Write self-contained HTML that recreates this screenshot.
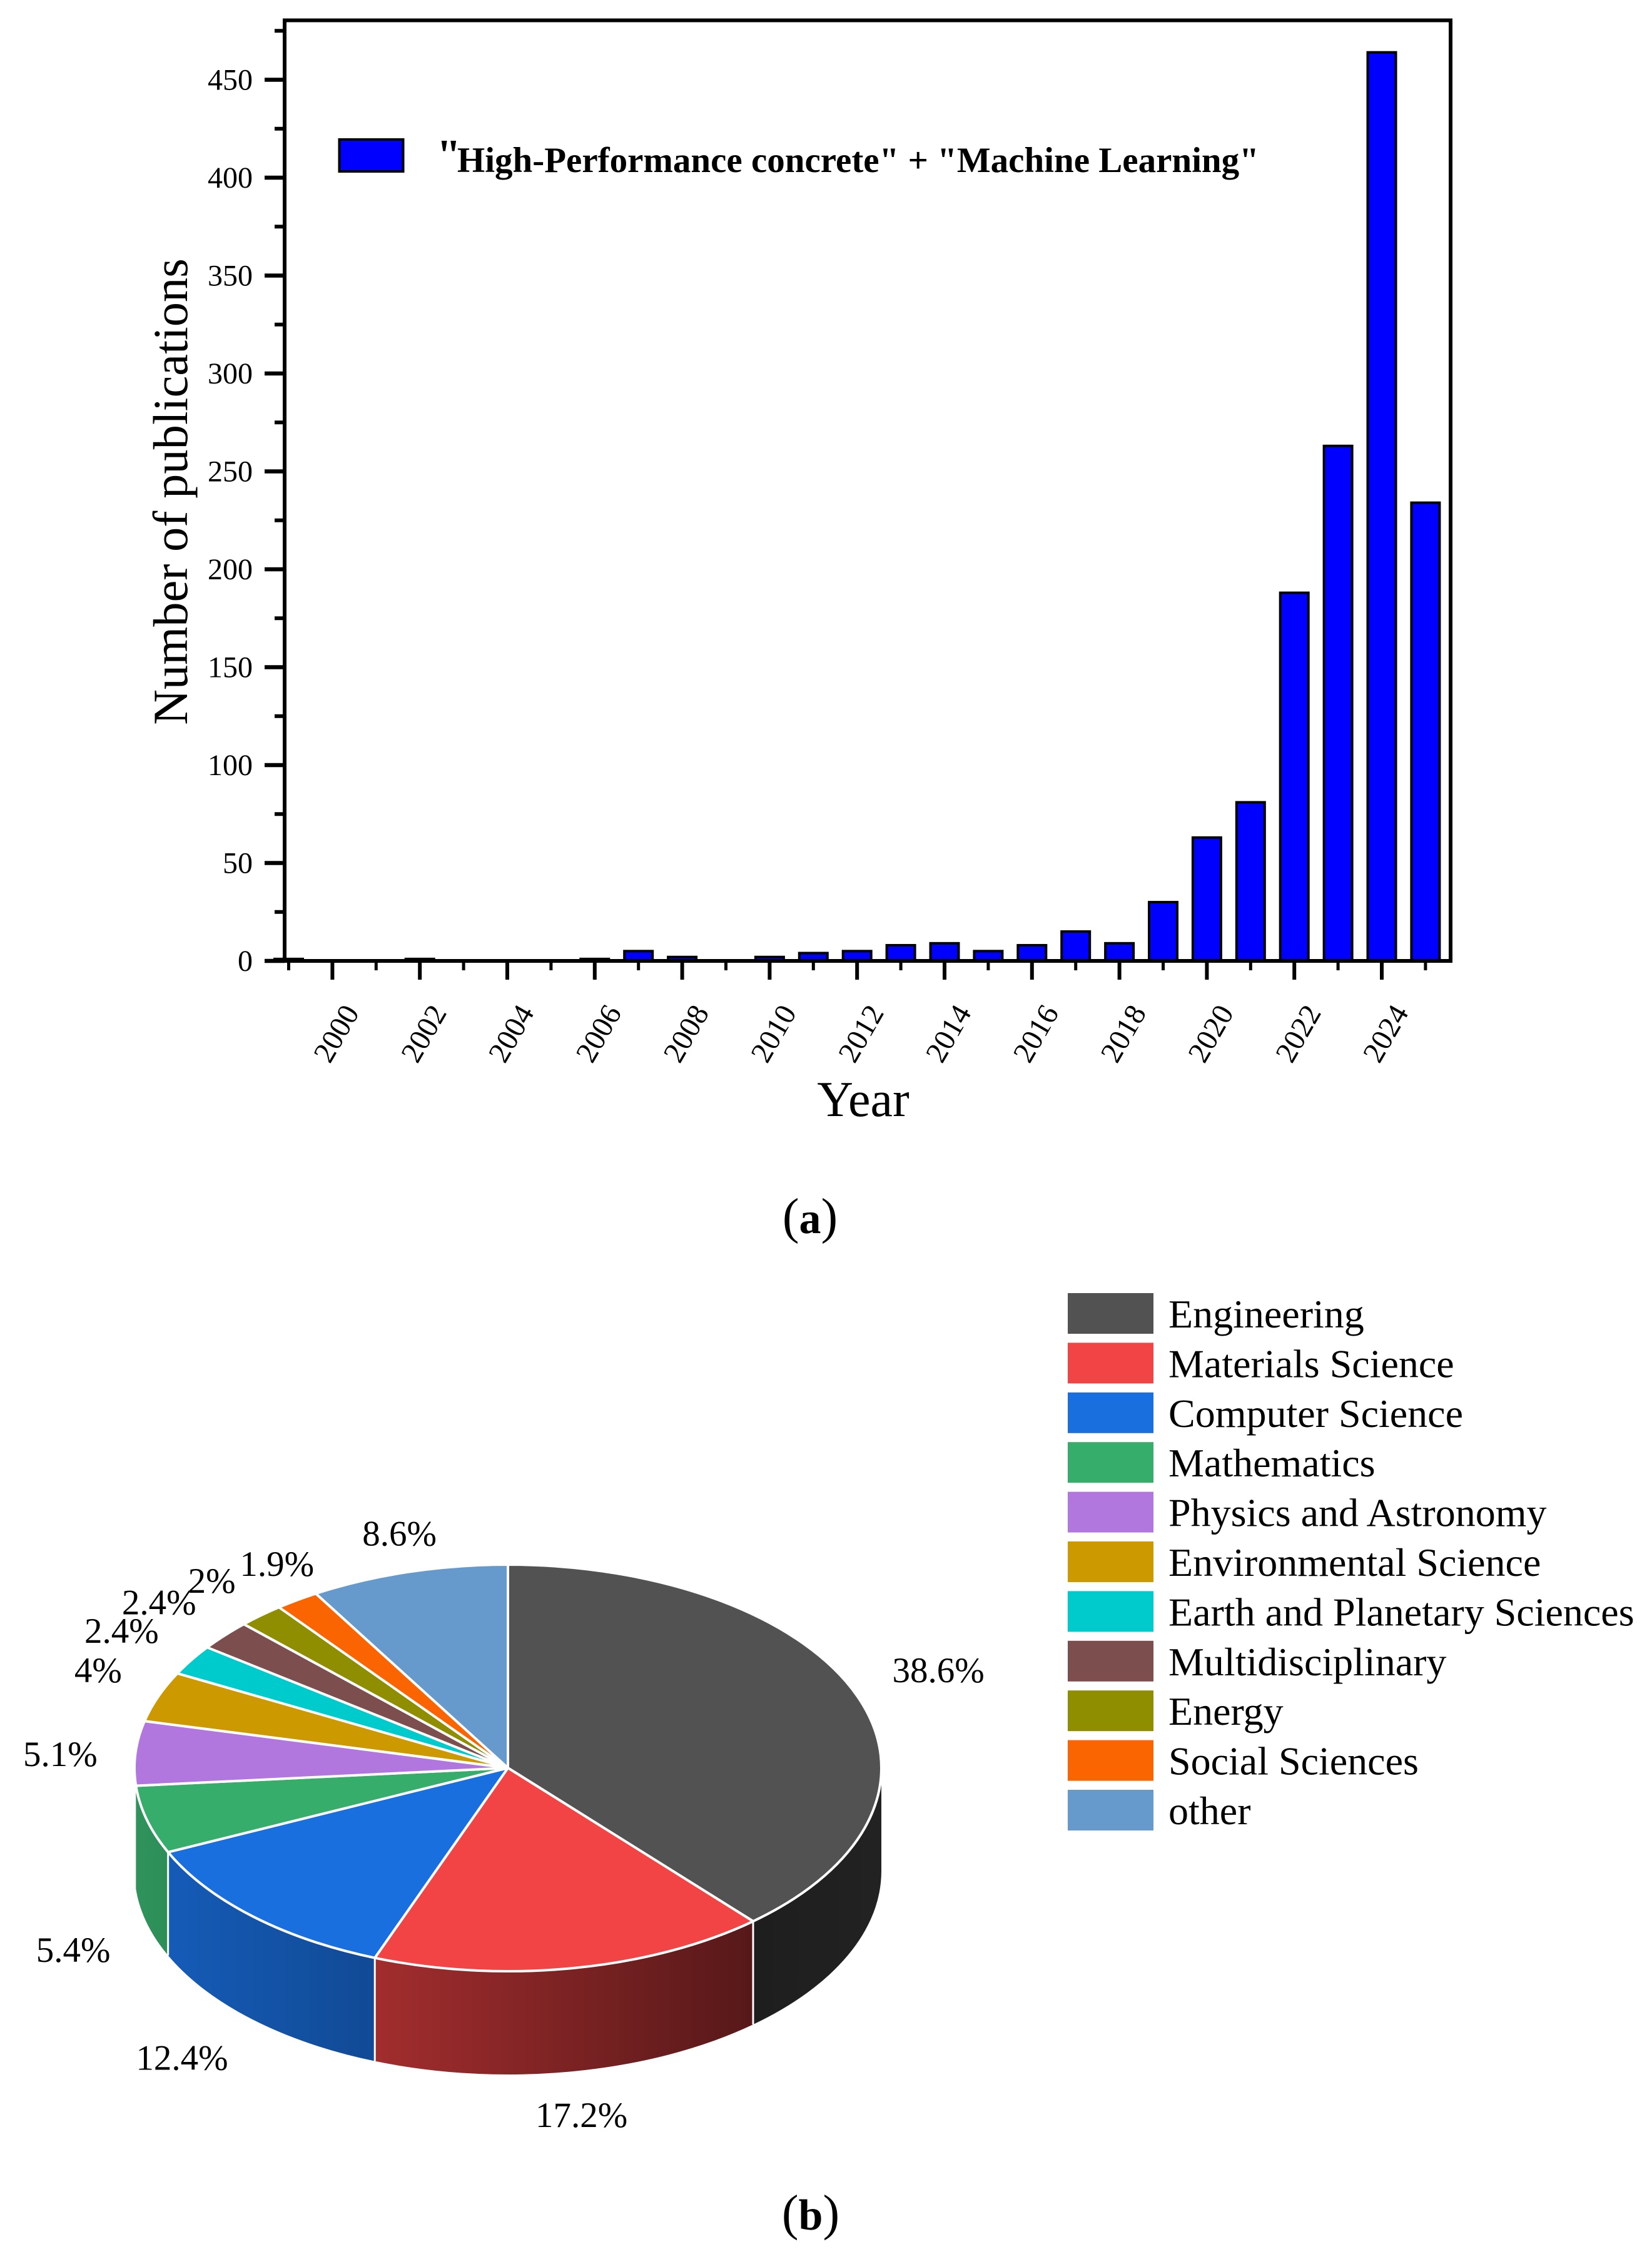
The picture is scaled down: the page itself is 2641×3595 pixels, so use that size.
<!DOCTYPE html>
<html lang="en">
<head>
<meta charset="utf-8">
<title>Publications on high-performance concrete and machine learning</title>
<style>
html,body{margin:0;padding:0;background:#fff;}
svg{display:block;font-family:"Liberation Serif",serif;}
</style>
</head>
<body>
<svg id="figure" xmlns="http://www.w3.org/2000/svg" width="2641" height="3595" viewBox="0 0 2641 3595">
  <rect x="0" y="0" width="2641" height="3595" fill="#ffffff"/>
  <g id="bar-chart"></g>
  <text transform="translate(299 786) rotate(-90)" text-anchor="middle" font-size="78.5" fill="#000">Number of publications</text>
  <text x="1380" y="1784" text-anchor="middle" font-size="80" fill="#000">Year</text>
  <rect x="542.5" y="223" width="102" height="51" fill="#0000ff" stroke="#000" stroke-width="4"/>
  <text x="698" y="275" font-size="57" font-weight="bold" fill="#000"><tspan font-size="70" dy="-4">"</tspan><tspan dx="-6" dy="4">High-Performance concrete" + "Machine Learning"</tspan></text>
  <text x="1295" y="1971" text-anchor="middle" font-size="80" fill="#000">(<tspan font-weight="bold" font-size="70">a</tspan>)</text>
  <g id="pie-chart"></g>
  <g id="pie-legend"></g>
  <text x="1296" y="3564" text-anchor="middle" font-size="80" fill="#000">(<tspan font-weight="bold" font-size="70">b</tspan>)</text>
</svg>
<script>
// ---- Bar chart data ----
const years = [1999,2000,2001,2002,2003,2004,2005,2006,2007,2008,2009,2010,2011,2012,2013,2014,2015,2016,2017,2018,2019,2020,2021,2022,2023,2024,2025];
const publications = [1,0,0,1,0,0,0,1,5,2,0,2,4,5,8,9,5,8,15,9,30,63,81,188,263,464,234];
const yTickValues = [0,50,100,150,200,250,300,350,400,450];
const yMinorTickValues = [25,75,125,175,225,275,325,375,425,475];
const xTickYears = [2000,2002,2004,2006,2008,2010,2012,2014,2016,2018,2020,2022,2024];
const xMinorTickYears = [1999,2001,2003,2005,2007,2009,2011,2013,2015,2017,2019,2021,2023,2025];

// ---- Pie chart data ----
const fields = ["Engineering","Materials Science","Computer Science","Mathematics","Physics and Astronomy","Environmental Science","Earth and Planetary Sciences","Multidisciplinary","Energy","Social Sciences","other"];
const shares = [38.6,17.2,12.4,5.4,5.1,4,2.4,2.4,2,1.9,8.6];
const fieldColors = ["#525252","#F24345","#1A6FDF","#37AD6B","#B177DE","#CC9900","#00CBCC","#7D4E4E","#8E8E00","#FB6501","#6699CC"];

const NS = "http://www.w3.org/2000/svg";
function make(parent, tag, props, text) {
  const el = document.createElementNS(NS, tag);
  for (const k in props) el.setAttribute(k, props[k]);
  if (text !== undefined) el.textContent = text;
  parent.appendChild(el);
  return el;
}

// ---- Bar chart axes ----
const xScale = function (year) { return 531.4 + 69.9 * (year - 2000); };
const yScale = function (value) { return 1536 - 3.13 * value; };

function drawBarChart() {
  const g = document.getElementById("bar-chart");
  years.forEach(function (year, i) {
    const top = yScale(publications[i]);
    const bar = make(g, "rect", {x: xScale(year) - 22.5, y: top, width: 45, height: yScale(0) - top, fill: "#0000ff", stroke: "#000", "stroke-width": 4});
    
    
  });
  const frame = make(g, "rect", {x: 455, y: 32.5, width: 1864, height: 1503.5, fill: "none", stroke: "#000", "stroke-width": 6});
  
  

  yTickValues.forEach(function (v) {
    const y = yScale(v);
    const tick = make(g, "line", {x1: 423, x2: 455, y1: y, y2: y, stroke: "#000", "stroke-width": 6.5});
    
    
    const label = make(g, "text", {x: 404, y: y + 16, "text-anchor": "end", "font-size": 48, fill: "#000"}, String(v));
    
    
  });
  yMinorTickValues.forEach(function (v) {
    const y = yScale(v);
    const tick = make(g, "line", {x1: 439, x2: 455, y1: y, y2: y, stroke: "#000", "stroke-width": 6});
    
    
  });
  xTickYears.forEach(function (year) {
    const x = xScale(year);
    const tick = make(g, "line", {x1: x, x2: x, y1: 1536, y2: 1566, stroke: "#000", "stroke-width": 6});
    
    
    const label = make(g, "text", {transform: "translate(" + (x + 20) + " 1660) rotate(-60)", "text-anchor": "middle", "font-size": 48, fill: "#000"}, String(year));
    
    
  });
  xMinorTickYears.forEach(function (year) {
    const x = xScale(year);
    const tick = make(g, "line", {x1: x, x2: x, y1: 1536, y2: 1551, stroke: "#000", "stroke-width": 5});
    
    
  });
}

// ---- Pie chart geometry ----
const PIE = {cx: 812, cy: 2826, rx: 597, ry: 325, depth: 165};
function rad(deg) { return deg * Math.PI / 180; }
function px(deg) { return PIE.cx + PIE.rx * Math.sin(rad(deg)); }
function py(deg) { return PIE.cy - PIE.ry * Math.cos(rad(deg)); }

// Wall lighting depends on horizontal position.
function shadeAt(x) {
  const a = [218, 271, 600, 1202, 1407];
  const b = [0.85, 0.82, 0.67, 0.36, 0.41];
  for (let i = 1; i < a.length; i++) {
    if (x <= a[i]) return b[i - 1] + (b[i] - b[i - 1]) * (x - a[i - 1]) / (a[i] - a[i - 1]);
  }
  return b[b.length - 1];
}
function shade(hex, f) {
  const n = parseInt(hex.slice(1), 16);
  const c = [n >> 16, (n >> 8) & 255, n & 255].map(function (v) { return Math.round(v * f); });
  return "rgb(" + c.join(",") + ")";
}

function drawPie() {
  const g = document.getElementById("pie-chart");
  const total = shares.reduce(function (s, v) { return s + v; }, 0);
  const defs = make(g, "defs", {});
  const angles = [];
  let running = 0;
  shares.forEach(function (v) {
    const start = running / total * 360;
    running += v;
    angles.push([start, running / total * 360]);
  });

  // Side walls (front half only)
  angles.forEach(function (span, i) {
    const a = Math.max(span[0], 90);
    const b = Math.min(span[1], 270);
    if (b - a < 6) return;
    const x1 = Math.min(px(a), px(b));
    const x2 = Math.max(px(a), px(b));
    const grad = make(defs, "linearGradient", {id: "wall-grad-" + i, gradientUnits: "userSpaceOnUse", x1: x1, x2: x2, y1: 0, y2: 0});
    make(grad, "stop", {offset: 0, "stop-color": shade(fieldColors[i], shadeAt(x1))});
    make(grad, "stop", {offset: 1, "stop-color": shade(fieldColors[i], shadeAt(x2))});
    const d = PIE.depth;
    const path = "M" + px(a) + " " + py(a) +
      " A" + PIE.rx + " " + PIE.ry + " 0 0 1 " + px(b) + " " + py(b) +
      " L" + px(b) + " " + (py(b) + d) +
      " A" + PIE.rx + " " + PIE.ry + " 0 0 0 " + px(a) + " " + (py(a) + d) + " Z";
    const wall = make(g, "path", {d: path, fill: "url(#wall-grad-" + i + ")"});
    
    
    if (a > 90) {
      const edge = make(g, "line", {x1: px(a), x2: px(a), y1: py(a), y2: py(a) + d, stroke: "#fff", "stroke-width": 3});
      
      
    }
  });

  // Top faces
  angles.forEach(function (span, i) {
    const large = span[1] - span[0] > 180 ? 1 : 0;
    const path = "M" + PIE.cx + " " + PIE.cy + " L" + px(span[0]) + " " + py(span[0]) +
      " A" + PIE.rx + " " + PIE.ry + " 0 " + large + " 1 " + px(span[1]) + " " + py(span[1]) + " Z";
    const slice = make(g, "path", {d: path, fill: fieldColors[i], stroke: "#fff", "stroke-width": 4, "stroke-linejoin": "round"});
    
    
  });

  // Percentage labels sit on an outer ellipse, with hand nudges for the original placement
  const nudgeX = [18,-8,-32,-4,-3,14,-12,-16,-1,34,17];
  const nudgeY = [-16,-2,9,26,7,-16,-7,-4,1,4,11];
  angles.forEach(function (span, i) {
    const mid = (span[0] + span[1]) / 2;
    const front = mid > 90 && mid < 270;
    const x = 812.5 + 715 * Math.sin(rad(mid)) + (nudgeX[i] || 0);
    const y = PIE.cy - 400 * Math.cos(rad(mid)) + (front ? 163 : 0) + (nudgeY[i] || 0);
    const label = make(g, "text", {x: x, y: y + 19, "text-anchor": "middle", "font-size": 57, fill: "#000"}, shares[i] + "%");
    
    
  });
}

function drawPieLegend() {
  const g = document.getElementById("pie-legend");
  fields.forEach(function (name, i) {
    const y = 2067 + 79.4 * i;
    const swatch = make(g, "rect", {x: 1707, y: y, width: 137, height: 65, fill: fieldColors[i]});
    
    
    const label = make(g, "text", {x: 1868, y: y + 55, "font-size": 64, fill: "#000"}, name);
    
    
  });
}

drawBarChart();
drawPie();
drawPieLegend();
</script>
</body>
</html>
